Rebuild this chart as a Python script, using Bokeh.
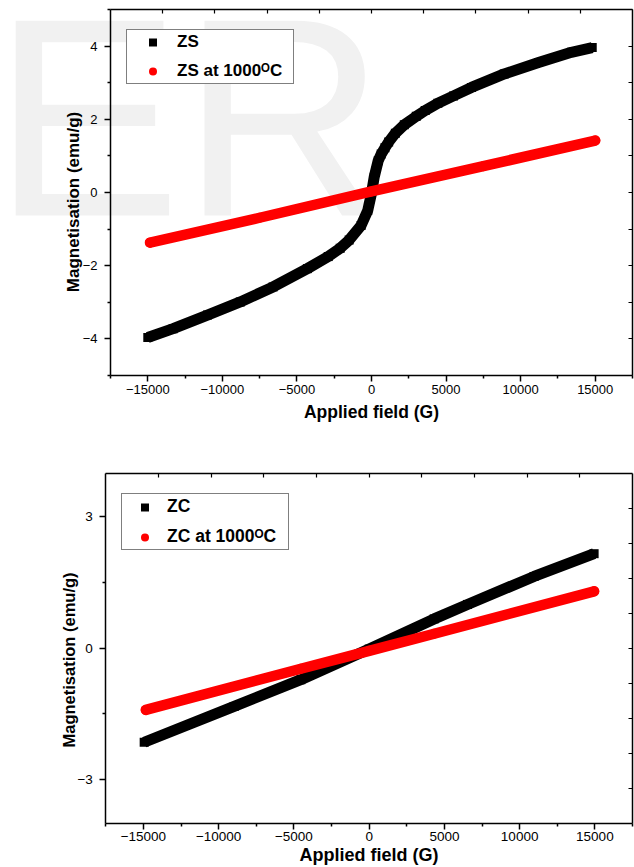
from bokeh.plotting import figure
from bokeh.models import (FixedTicker, LinearAxis, Range1d, Legend, LegendItem,
                          Label, CustomJSTickFormatter)
from bokeh.layouts import column
from bokeh.embed import file_html
from bokeh.resources import INLINE

FONT = "Liberation Sans"
NB = "\u00a0"
SUP_O = "\u1d3c"

# ---------------- data ----------------
# Top panel: ZS (black squares) and ZS at 1000 C (red circles)
zs_field = [-15000, -13300, -11000, -8800, -6600, -4300, -2900, -2100, -1500, -700,
            -250, 0, 180, 450, 650, 900, 1150, 1600, 2200, 3000, 3600, 4450, 5500,
            6700, 8900, 11200, 13400, 14800]
zs_m = [-3.96, -3.72, -3.35, -2.99, -2.58, -2.08, -1.75, -1.52, -1.30, -0.90,
        -0.49, -0.02, 0.42, 0.87, 1.05, 1.22, 1.38, 1.62, 1.85, 2.08, 2.24, 2.44,
        2.64, 2.87, 3.24, 3.55, 3.83, 3.96]

zs1000_field = [-14850, -7500, 0, 7500, 15000]
zs1000_m = [-1.37, -0.69, 0.03, 0.72, 1.42]

# Bottom panel: ZC (black squares) and ZC at 1000 C (red circles)
zc_field = [-14950, -8970, -4540, 0, 4320, 6535, 10960, 14950]
zc_m = [-2.15, -1.33, -0.72, -0.02, 0.67, 1.00, 1.64, 2.16]

zc1000_field = [-14840, -4540, 0, 4320, 14950]
zc1000_m = [-1.41, -0.47, -0.06, 0.33, 1.30]

# axis extents and ticks
x_lo, x_hi = -17500, 17500
y1_lo, y1_hi = -5, 5
y2_lo, y2_hi = -4, 4
x_major = [-15000, -10000, -5000, 0, 5000, 10000, 15000]
x_minor = [-17500, -12500, -7500, -2500, 2500, 7500, 12500, 17500]
x_top_step = 3500
y1_major = [-4, -2, 0, 2, 4]
y1_minor = [-5, -3, -1, 1, 3, 5]
y1_right = [-5, -4, -3, -2, -1, 0, 1, 2, 3, 4, 5]
y2_major = [-3, 0, 3]
y2_minor = [-1.5, 1.5]
y2_right_step = 0.8

top_ticks = [k * x_top_step for k in range(-4, 5)]
y2_right = [round(k * y2_right_step, 2) for k in range(-4, 5)]


def main_axis(loc, bounds, major, minor, tick_size, label, label_size,
              label_standoff, tick_standoff):
    ax = LinearAxis(fixed_location=loc, bounds=bounds,
                    ticker=FixedTicker(ticks=major, minor_ticks=minor))
    ax.axis_label = label
    ax.axis_line_color = "black"
    ax.axis_line_width = 1.5
    ax.major_tick_line_color = "black"
    ax.major_tick_line_width = 1.5
    ax.minor_tick_line_color = "black"
    ax.minor_tick_line_width = 1.5
    ax.major_tick_in = 0
    ax.major_tick_out = 6
    ax.minor_tick_in = 0
    ax.minor_tick_out = 3
    ax.major_label_text_font = FONT
    ax.major_label_text_font_size = tick_size
    ax.major_label_text_color = "black"
    ax.major_label_standoff = tick_standoff
    ax.axis_label_text_font = FONT
    ax.axis_label_text_font_style = "bold"
    ax.axis_label_text_font_size = label_size
    ax.axis_label_text_color = "black"
    ax.axis_label_standoff = label_standoff
    return ax


def plain_axis(loc, bounds, ticks):
    ax = LinearAxis(fixed_location=loc, bounds=bounds,
                    ticker=FixedTicker(ticks=ticks, minor_ticks=[]),
                    formatter=CustomJSTickFormatter(code="return ''"))
    ax.axis_line_color = "black"
    ax.axis_line_width = 1.5
    ax.major_tick_line_color = "black"
    ax.major_tick_line_width = 1.2
    ax.major_tick_in = 4
    ax.major_tick_out = 0
    ax.minor_tick_in = 0
    ax.minor_tick_out = 0
    ax.major_label_standoff = 0
    ax.major_label_text_font_size = "0px"
    return ax


def make_panel(height, frame_px, y_lo, y_hi, yl_major, yl_minor, right_ticks,
               fb, mb, fr, mr, names, tick_size, xlab_size, ylab_size, ylab_text,
               ylab_standoff, xlab_standoff, xtick_standoff, legend_geom):
    # frame_px: pixel box (left, right, top, bottom) of the data area inside the canvas
    L, R, T, B = frame_px
    W = 634
    kx = (x_hi - x_lo) / (R - L)
    ky = (y_hi - y_lo) / (B - T)
    xr = Range1d(x_lo - L * kx, x_hi + (W - R) * kx)
    yr = Range1d(y_lo - (height - B) * ky, y_hi + T * ky)
    p = figure(width=W, height=height, output_backend="svg",
               toolbar_location=None, x_range=xr, y_range=yr,
               x_axis_location=None, y_axis_location=None, min_border=0)
    p.grid.visible = False
    p.outline_line_color = None
    p.background_fill_color = "white"
    p.border_fill_color = "white"

    p.add_layout(main_axis(y_lo, (x_lo, x_hi), x_major, x_minor, tick_size,
                           "Applied field (G)", xlab_size, xlab_standoff,
                           xtick_standoff), "below")
    p.add_layout(main_axis(x_lo, (y_lo, y_hi), yl_major, yl_minor, tick_size,
                           ylab_text, ylab_size, ylab_standoff, 7), "left")
    p.add_layout(plain_axis(y_hi, (x_lo, x_hi), top_ticks), "above")
    p.add_layout(plain_axis(x_hi, (y_lo, y_hi), right_ticks), "right")

    # black band (squares)
    p.line(fb, mb, line_color="black", line_width=11, line_join="round")
    rb = p.scatter(fb, mb, marker="square", size=9, fill_color="black",
                   line_color=None)
    # red band (circles)
    p.line(fr, mr, line_color="#ff0000", line_width=10.5, line_join="round",
           line_cap="round")
    rr = p.scatter(fr, mr, marker="circle", size=10, fill_color="#ff0000",
                   line_color=None)

    lx, ly, gw, lw, ls = legend_geom
    leg = Legend(items=[LegendItem(label=names[0], renderers=[rb]),
                        LegendItem(label=names[1], renderers=[rr])],
                 location=(lx, ly), margin=0, padding=2, spacing=9,
                 glyph_width=gw, glyph_height=20, label_height=20,
                 label_width=lw, label_standoff=ls,
                 label_text_font=FONT, label_text_font_style="bold",
                 label_text_font_size=names[2], label_text_color="black",
                 border_line_color="black", border_line_width=1,
                 background_fill_color="white", background_fill_alpha=1.0)
    p.add_layout(leg)
    return p


top = make_panel(440, (110, 632, 9, 375), y1_lo, y1_hi, y1_major, y1_minor, y1_right,
                 zs_field, zs_m, zs1000_field, zs1000_m,
                 ("ZS", "ZS at 1000" + SUP_O + "C", "17px"), "13px", "17.5px",
                 "17px", "Magnetisation (emu/g)" + NB * 4, -3, 5, 3,
                 (126, 356, 47, 114, 1))
bottom = make_panel(427, (105.3, 632, 32.7, 382.7), y2_lo, y2_hi, y2_major, y2_minor,
                    y2_right, zc_field, zc_m, zc1000_field, zc1000_m,
                    ("ZC", "ZC at 1000" + SUP_O + "C", "17.5px"), "13.5px", "18px",
                    "16.5px", "Magnetisation (emu/g)" + NB * 5, -4, 0, 3,
                    (121, 317, 41, 119, 2))

# faint watermark behind the top panel
top.add_layout(Label(x=-8, y=323, x_units="screen", y_units="screen", text="ER",
                     text_font=FONT, text_font_size="283px", text_color="#f1f1f1",
                     text_baseline="middle", level="underlay"))

layout = column(top, bottom, spacing=0)
open("out.html", "w").write(file_html(layout, INLINE))
